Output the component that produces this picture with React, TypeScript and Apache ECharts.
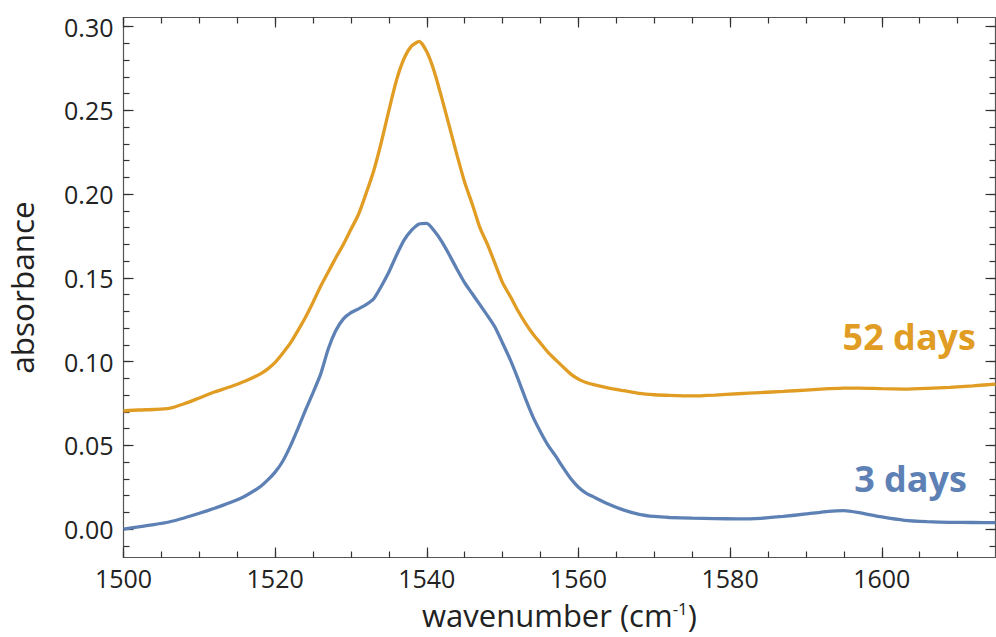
import React, { useEffect, useRef } from "react";
import * as echarts from "echarts";

const wavenumber = [
  1500, 1502, 1504, 1506, 1508, 1510, 1512, 1514, 1516, 1518, 1519, 1520, 1521, 1522, 1523, 1524, 1525,
  1526, 1527, 1528, 1529, 1530, 1531, 1532, 1533, 1534, 1535, 1536, 1537, 1538, 1539, 1540, 1541, 1542,
  1543, 1544, 1545, 1546, 1547, 1548, 1549, 1550, 1551, 1552, 1553, 1554, 1555, 1556, 1557, 1558, 1559,
  1560, 1561, 1562, 1564, 1566, 1568, 1570, 1572, 1575, 1578, 1581, 1584, 1587, 1590, 1593, 1595, 1597,
  1600, 1603, 1606, 1609, 1612, 1615,
];

const absorbance52days = [
  0.0705, 0.0711, 0.0714, 0.072, 0.0748, 0.0783, 0.0818, 0.0848, 0.0882, 0.0925, 0.0955, 0.0995, 0.105,
  0.111, 0.1185, 0.1265, 0.1355, 0.145, 0.1535, 0.162, 0.17, 0.179, 0.188, 0.2005, 0.214, 0.231, 0.25, 0.268,
  0.281, 0.2885, 0.2912, 0.285, 0.273, 0.257, 0.24, 0.223, 0.207, 0.194, 0.18, 0.17, 0.1585, 0.147, 0.139,
  0.1305, 0.123, 0.1165, 0.111, 0.1055, 0.101, 0.0967, 0.0925, 0.0895, 0.0875, 0.0862, 0.0842, 0.0826,
  0.081, 0.0802, 0.0798, 0.0795, 0.08, 0.0808, 0.0815, 0.0822, 0.083, 0.0838, 0.0842, 0.0842, 0.0838,
  0.0836, 0.084, 0.0846, 0.0855, 0.0866,
];

const absorbance3days = [
  0.0, 0.0013, 0.0026, 0.0042, 0.0066, 0.0094, 0.0124, 0.0157, 0.0196, 0.0252, 0.0292, 0.034, 0.0405,
  0.0495, 0.06, 0.071, 0.0815, 0.0925, 0.1075, 0.1185, 0.1255, 0.1292, 0.1315, 0.134, 0.1375, 0.145,
  0.1535, 0.1635, 0.1725, 0.1785, 0.1822, 0.1825, 0.178, 0.1715, 0.1635, 0.155, 0.147, 0.1405, 0.134,
  0.1275, 0.1205, 0.111, 0.1012, 0.09, 0.078, 0.067, 0.058, 0.05, 0.0435, 0.0365, 0.03, 0.025, 0.0215,
  0.0192, 0.0148, 0.0113, 0.0088, 0.0075, 0.0069, 0.0065, 0.0062, 0.0061, 0.0064, 0.0075, 0.009, 0.0106,
  0.011, 0.0098, 0.0072, 0.0052, 0.0044, 0.004, 0.0039, 0.0038,
];

const xMajorTicks = [1500, 1520, 1540, 1560, 1580, 1600];
const xMinorTicks = [
  1500, 1505, 1510, 1515, 1520, 1525, 1530, 1535, 1540, 1545, 1550, 1555, 1560, 1565, 1570, 1575, 1580,
  1585, 1590, 1595, 1600, 1605, 1610,
];
const yMajorTicks = [0, 0.05, 0.1, 0.15, 0.2, 0.25, 0.3];
const yMinorTicks = [
  -0.01, 0, 0.01, 0.02, 0.03, 0.04, 0.05, 0.06, 0.07, 0.08, 0.09, 0.1, 0.11, 0.12, 0.13, 0.14, 0.15, 0.16,
  0.17, 0.18, 0.19, 0.2, 0.21, 0.22, 0.23, 0.24, 0.25, 0.26, 0.27, 0.28, 0.29, 0.3,
];

const seriesNames = ["3 days", "52 days"];
const colors = ["#5E81B5", "#E19C24"];

const X_MIN = 1500;
const X_MAX = 1615;
const Y_MIN = -0.017;
const Y_MAX = 0.3055;

const FONT = '"Open Sans", "Noto Sans", sans-serif';
const FRAME = "#555555";
const TICK = "#333333";
const TEXT = "#222222";

function xAxisDef(position: string, ticks: number[], len: number, labels: boolean, line: boolean, name?: any) {
  return {
    type: "value",
    position,
    min: X_MIN,
    max: X_MAX,
    axisLine: { show: line, onZero: false, lineStyle: { color: FRAME, width: 1.2 } },
    axisTick: { show: true, inside: true, length: len, customValues: ticks, lineStyle: { color: TICK, width: 1.2 } },
    axisLabel: labels
      ? { show: true, customValues: ticks, color: TEXT, fontFamily: FONT, fontSize: 25, margin: 8, formatter: (v: number) => String(v) }
      : { show: false },
    splitLine: { show: false },
    ...(name || {}),
  };
}

function yAxisDef(position: string, ticks: number[], len: number, labels: boolean, line: boolean, name?: any) {
  return {
    type: "value",
    position,
    min: Y_MIN,
    max: Y_MAX,
    axisLine: { show: line, onZero: false, lineStyle: { color: FRAME, width: 1.2 } },
    axisTick: { show: true, inside: true, length: len, customValues: ticks, lineStyle: { color: TICK, width: 1.2 } },
    axisLabel: labels
      ? { show: true, customValues: ticks, color: TEXT, fontFamily: FONT, fontSize: 25, margin: 10, formatter: (v: number) => v.toFixed(2) }
      : { show: false },
    splitLine: { show: false },
    ...(name || {}),
  };
}

export default function App() {
  const ref = useRef<HTMLDivElement>(null);
  useEffect(() => {
    if (!ref.current) return;
    const chart = echarts.init(ref.current, null, { renderer: "svg" });
    const option: any = {
      animation: false,
      backgroundColor: "#ffffff",
      grid: { left: 123.5, right: 0.5, top: 17.5, bottom: 79.5, containLabel: false, outerBoundsMode: "none" },
      xAxis: [
        xAxisDef("bottom", xMajorTicks, 10, true, true, {
          name: "wavenumber (cm{sup|-1})",
          nameLocation: "middle",
          nameGap: 42,
          nameTextStyle: {
            color: TEXT,
            fontFamily: FONT,
            fontSize: 31,
            rich: { sup: { fontSize: 17, fontFamily: FONT, color: TEXT, verticalAlign: "top", padding: [0, 0, 11, 0] } },
          },
        }),
        xAxisDef("bottom", xMinorTicks, 6, false, false),
        xAxisDef("top", xMajorTicks, 10, false, true),
        xAxisDef("top", xMinorTicks, 6, false, false),
      ],
      yAxis: [
        yAxisDef("left", yMajorTicks, 10, true, true, {
          name: "absorbance",
          nameLocation: "middle",
          nameGap: 86,
          nameTextStyle: { color: TEXT, fontFamily: FONT, fontSize: 31.5 },
        }),
        yAxisDef("left", yMinorTicks, 6, false, false),
        yAxisDef("right", yMajorTicks, 10, false, true),
        yAxisDef("right", yMinorTicks, 6, false, false),
      ],
      series: [
        {
          name: seriesNames[0],
          type: "line",
          xAxisIndex: 0,
          yAxisIndex: 0,
          showSymbol: false,
          symbol: "none",
          smooth: 0.2,
          lineStyle: { color: colors[0], width: 3.3 },
          data: wavenumber.map((w, i) => [w, absorbance3days[i]]),
          z: 3,
        },
        {
          name: seriesNames[1],
          type: "line",
          xAxisIndex: 0,
          yAxisIndex: 0,
          showSymbol: false,
          symbol: "none",
          smooth: 0.2,
          lineStyle: { color: colors[1], width: 3.3 },
          data: wavenumber.map((w, i) => [w, absorbance52days[i]]),
          z: 3,
        },
      ],
      graphic: [
        {
          type: "text",
          x: 976,
          y: 336,
          style: {
            text: seriesNames[1],
            fill: colors[1],
            fontFamily: FONT,
            fontWeight: "bold",
            fontSize: 36,
            textAlign: "right",
            textVerticalAlign: "middle",
          },
        },
        {
          type: "text",
          x: 967,
          y: 478,
          style: {
            text: seriesNames[0],
            fill: colors[0],
            fontFamily: FONT,
            fontWeight: "bold",
            fontSize: 36,
            textAlign: "right",
            textVerticalAlign: "middle",
          },
        },
      ],
    };
    chart.setOption(option);
    return () => chart.dispose();
  }, []);
  return <div ref={ref} style={{ position: "fixed", left: 0, top: 0, width: 996, height: 637 }} />;
}
